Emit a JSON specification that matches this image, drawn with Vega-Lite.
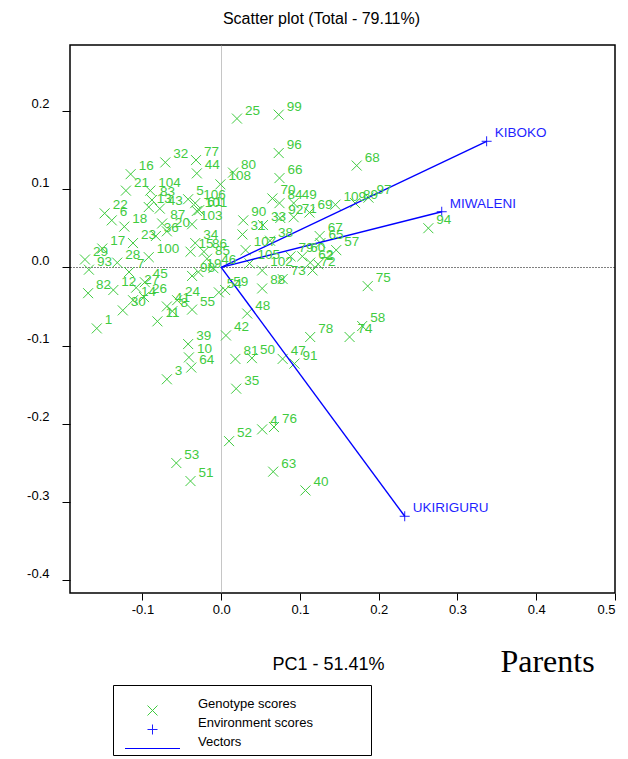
{
  "$schema": "https://vega.github.io/schema/vega-lite/v6.json",
  "autosize": {"type": "none"},
  "width": 545,
  "height": 548,
  "padding": {"left": 70, "top": 45, "right": 13, "bottom": 166},
  "background": "white",
  "title": {
    "text": "Scatter plot (Total - 79.11%)",
    "font": "Liberation Sans",
    "fontSize": 16,
    "fontWeight": "normal",
    "color": "black",
    "anchor": "middle",
    "frame": "group",
    "dx": -21,
    "offset": 2,
    "baseline": "bottom"
  },
  "config": {
    "view": {"stroke": "black", "strokeWidth": 1.5},
    "axis": {
      "domain": false,
      "tickColor": "black",
      "labelColor": "black",
      "labelFont": "Liberation Sans",
      "labelFontSize": 13,
      "titleColor": "black",
      "titleFontWeight": "normal",
      "gridWidth": 1
    },
    "legend": {
      "labelFont": "Liberation Sans",
      "labelFontSize": 13,
      "labelColor": "black",
      "labelBaseline": "bottom",
      "strokeColor": "black",
      "fillColor": "white",
      "padding": 4,
      "rowPadding": -2,
      "symbolSize": 100,
      "symbolStrokeWidth": 1,
      "symbolOffset": 29,
      "labelOffset": 39,
      "titleFont": "DejaVu Sans",
      "titleFontSize": 10,
      "titleFontWeight": "normal",
      "titlePadding": 5,
      "titleLimit": 400
    }
  },
  "datasets": {
    "scores": [
      {"name": "1", "PC1": -0.158, "PC2": -0.078, "group": "Genotype scores"},
      {"name": "2", "PC1": 0.123, "PC2": 0.004, "group": "Genotype scores"},
      {"name": "3", "PC1": -0.069, "PC2": -0.143, "group": "Genotype scores"},
      {"name": "4", "PC1": 0.052, "PC2": -0.207, "group": "Genotype scores"},
      {"name": "5", "PC1": -0.042, "PC2": 0.087, "group": "Genotype scores"},
      {"name": "6", "PC1": -0.139, "PC2": 0.060, "group": "Genotype scores"},
      {"name": "7", "PC1": -0.117, "PC2": -0.006, "group": "Genotype scores"},
      {"name": "8", "PC1": -0.062, "PC2": -0.056, "group": "Genotype scores"},
      {"name": "10", "PC1": -0.041, "PC2": -0.115, "group": "Genotype scores"},
      {"name": "11", "PC1": -0.081, "PC2": -0.069, "group": "Genotype scores"},
      {"name": "12", "PC1": -0.137, "PC2": -0.029, "group": "Genotype scores"},
      {"name": "13", "PC1": -0.092, "PC2": 0.077, "group": "Genotype scores"},
      {"name": "14", "PC1": -0.112, "PC2": -0.042, "group": "Genotype scores"},
      {"name": "15", "PC1": -0.039, "PC2": 0.020, "group": "Genotype scores"},
      {"name": "16", "PC1": -0.115, "PC2": 0.119, "group": "Genotype scores"},
      {"name": "17", "PC1": -0.151, "PC2": 0.024, "group": "Genotype scores"},
      {"name": "18", "PC1": -0.123, "PC2": 0.052, "group": "Genotype scores"},
      {"name": "19", "PC1": -0.029, "PC2": -0.006, "group": "Genotype scores"},
      {"name": "20", "PC1": -0.069, "PC2": 0.046, "group": "Genotype scores"},
      {"name": "21", "PC1": -0.121, "PC2": 0.098, "group": "Genotype scores"},
      {"name": "22", "PC1": -0.148, "PC2": 0.069, "group": "Genotype scores"},
      {"name": "23", "PC1": -0.112, "PC2": 0.031, "group": "Genotype scores"},
      {"name": "24", "PC1": -0.056, "PC2": -0.042, "group": "Genotype scores"},
      {"name": "25", "PC1": 0.020, "PC2": 0.190, "group": "Genotype scores"},
      {"name": "26", "PC1": -0.098, "PC2": -0.038, "group": "Genotype scores"},
      {"name": "27", "PC1": -0.108, "PC2": -0.026, "group": "Genotype scores"},
      {"name": "28", "PC1": -0.132, "PC2": 0.006, "group": "Genotype scores"},
      {"name": "29", "PC1": -0.173, "PC2": 0.010, "group": "Genotype scores"},
      {"name": "30", "PC1": -0.125, "PC2": -0.055, "group": "Genotype scores"},
      {"name": "31", "PC1": 0.027, "PC2": 0.042, "group": "Genotype scores"},
      {"name": "32", "PC1": -0.071, "PC2": 0.134, "group": "Genotype scores"},
      {"name": "33", "PC1": 0.053, "PC2": 0.054, "group": "Genotype scores"},
      {"name": "34", "PC1": -0.033, "PC2": 0.031, "group": "Genotype scores"},
      {"name": "35", "PC1": 0.019, "PC2": -0.155, "group": "Genotype scores"},
      {"name": "36", "PC1": -0.083, "PC2": 0.040, "group": "Genotype scores"},
      {"name": "38", "PC1": 0.062, "PC2": 0.034, "group": "Genotype scores"},
      {"name": "39", "PC1": -0.042, "PC2": -0.098, "group": "Genotype scores"},
      {"name": "40", "PC1": 0.107, "PC2": -0.285, "group": "Genotype scores"},
      {"name": "41", "PC1": -0.069, "PC2": -0.050, "group": "Genotype scores"},
      {"name": "42", "PC1": 0.006, "PC2": -0.087, "group": "Genotype scores"},
      {"name": "43", "PC1": -0.078, "PC2": 0.075, "group": "Genotype scores"},
      {"name": "44", "PC1": -0.031, "PC2": 0.120, "group": "Genotype scores"},
      {"name": "45", "PC1": -0.097, "PC2": -0.019, "group": "Genotype scores"},
      {"name": "46", "PC1": -0.010, "PC2": -0.001, "group": "Genotype scores"},
      {"name": "47", "PC1": 0.078, "PC2": -0.117, "group": "Genotype scores"},
      {"name": "48", "PC1": 0.033, "PC2": -0.059, "group": "Genotype scores"},
      {"name": "49", "PC1": 0.092, "PC2": 0.082, "group": "Genotype scores"},
      {"name": "50", "PC1": 0.039, "PC2": -0.116, "group": "Genotype scores"},
      {"name": "51", "PC1": -0.039, "PC2": -0.273, "group": "Genotype scores"},
      {"name": "52", "PC1": 0.010, "PC2": -0.222, "group": "Genotype scores"},
      {"name": "53", "PC1": -0.057, "PC2": -0.250, "group": "Genotype scores"},
      {"name": "54", "PC1": -0.003, "PC2": -0.032, "group": "Genotype scores"},
      {"name": "55", "PC1": -0.037, "PC2": -0.054, "group": "Genotype scores"},
      {"name": "57", "PC1": 0.146, "PC2": 0.022, "group": "Genotype scores"},
      {"name": "58", "PC1": 0.179, "PC2": -0.075, "group": "Genotype scores"},
      {"name": "59", "PC1": 0.005, "PC2": -0.029, "group": "Genotype scores"},
      {"name": "60", "PC1": 0.103, "PC2": 0.014, "group": "Genotype scores"},
      {"name": "61", "PC1": -0.028, "PC2": 0.073, "group": "Genotype scores"},
      {"name": "62", "PC1": 0.113, "PC2": 0.006, "group": "Genotype scores"},
      {"name": "63", "PC1": 0.066, "PC2": -0.261, "group": "Genotype scores"},
      {"name": "64", "PC1": -0.038, "PC2": -0.128, "group": "Genotype scores"},
      {"name": "65", "PC1": 0.126, "PC2": 0.031, "group": "Genotype scores"},
      {"name": "66", "PC1": 0.074, "PC2": 0.114, "group": "Genotype scores"},
      {"name": "67", "PC1": 0.125, "PC2": 0.040, "group": "Genotype scores"},
      {"name": "68", "PC1": 0.172, "PC2": 0.130, "group": "Genotype scores"},
      {"name": "69", "PC1": 0.112, "PC2": 0.070, "group": "Genotype scores"},
      {"name": "70", "PC1": 0.065, "PC2": 0.088, "group": "Genotype scores"},
      {"name": "71", "PC1": 0.092, "PC2": 0.064, "group": "Genotype scores"},
      {"name": "72", "PC1": 0.116, "PC2": -0.004, "group": "Genotype scores"},
      {"name": "73", "PC1": 0.078, "PC2": -0.015, "group": "Genotype scores"},
      {"name": "74", "PC1": 0.163, "PC2": -0.089, "group": "Genotype scores"},
      {"name": "75", "PC1": 0.186, "PC2": -0.024, "group": "Genotype scores"},
      {"name": "76", "PC1": 0.067, "PC2": -0.204, "group": "Genotype scores"},
      {"name": "77", "PC1": -0.032, "PC2": 0.137, "group": "Genotype scores"},
      {"name": "78", "PC1": 0.113, "PC2": -0.089, "group": "Genotype scores"},
      {"name": "79", "PC1": 0.088, "PC2": 0.014, "group": "Genotype scores"},
      {"name": "80", "PC1": 0.015, "PC2": 0.121, "group": "Genotype scores"},
      {"name": "81", "PC1": 0.018, "PC2": -0.117, "group": "Genotype scores"},
      {"name": "82", "PC1": -0.169, "PC2": -0.033, "group": "Genotype scores"},
      {"name": "83", "PC1": -0.088, "PC2": 0.086, "group": "Genotype scores"},
      {"name": "84", "PC1": 0.074, "PC2": 0.082, "group": "Genotype scores"},
      {"name": "85", "PC1": -0.018, "PC2": 0.011, "group": "Genotype scores"},
      {"name": "86", "PC1": -0.022, "PC2": 0.020, "group": "Genotype scores"},
      {"name": "87", "PC1": -0.075, "PC2": 0.056, "group": "Genotype scores"},
      {"name": "88", "PC1": 0.052, "PC2": -0.027, "group": "Genotype scores"},
      {"name": "89", "PC1": 0.170, "PC2": 0.082, "group": "Genotype scores"},
      {"name": "90", "PC1": 0.028, "PC2": 0.060, "group": "Genotype scores"},
      {"name": "91", "PC1": 0.093, "PC2": -0.123, "group": "Genotype scores"},
      {"name": "92", "PC1": 0.075, "PC2": 0.063, "group": "Genotype scores"},
      {"name": "93", "PC1": -0.168, "PC2": -0.003, "group": "Genotype scores"},
      {"name": "94", "PC1": 0.263, "PC2": 0.050, "group": "Genotype scores"},
      {"name": "96", "PC1": 0.073, "PC2": 0.146, "group": "Genotype scores"},
      {"name": "97", "PC1": 0.187, "PC2": 0.089, "group": "Genotype scores"},
      {"name": "98", "PC1": -0.037, "PC2": -0.011, "group": "Genotype scores"},
      {"name": "99", "PC1": 0.073, "PC2": 0.195, "group": "Genotype scores"},
      {"name": "100", "PC1": -0.092, "PC2": 0.013, "group": "Genotype scores"},
      {"name": "101", "PC1": -0.031, "PC2": 0.072, "group": "Genotype scores"},
      {"name": "102", "PC1": 0.052, "PC2": -0.004, "group": "Genotype scores"},
      {"name": "103", "PC1": -0.037, "PC2": 0.055, "group": "Genotype scores"},
      {"name": "104", "PC1": -0.090, "PC2": 0.098, "group": "Genotype scores"},
      {"name": "105", "PC1": 0.036, "PC2": 0.005, "group": "Genotype scores"},
      {"name": "106", "PC1": -0.033, "PC2": 0.082, "group": "Genotype scores"},
      {"name": "107", "PC1": 0.031, "PC2": 0.022, "group": "Genotype scores"},
      {"name": "108", "PC1": -0.001, "PC2": 0.106, "group": "Genotype scores"},
      {"name": "109", "PC1": 0.145, "PC2": 0.080, "group": "Genotype scores"},
      {"name": "KIBOKO", "PC1": 0.337, "PC2": 0.161, "group": "Environment scores"},
      {"name": "MIWALENI", "PC1": 0.280, "PC2": 0.071, "group": "Environment scores"},
      {"name": "UKIRIGURU", "PC1": 0.233, "PC2": -0.318, "group": "Environment scores"}
    ]
  },
  "data": {"name": "scores"},
  "encoding": {
    "x": {
      "field": "PC1",
      "type": "quantitative",
      "scale": {"domain": [-0.192, 0.5], "nice": false, "zero": false},
      "axis": {
        "values": [-0.1, 0, 0.1, 0.2, 0.3, 0.4, 0.5],
        "labelExpr": "datum.value < 0 ? '-' + format(-datum.value, '.1f') : format(datum.value, '.1f')",
        "tickSize": 7,
        "labelPadding": 3,
        "grid": true,
        "gridColor": {"condition": {"test": "datum.value === 0", "value": "#8c8c8c"}, "value": "transparent"},
        "gridDash": [1, 1],
        "title": "PC1 - 51.41%",
        "titleFont": "Liberation Sans",
        "titleFontSize": 18,
        "titleX": 258,
        "titleY": 71,
        "titleAlign": "center",
        "titleBaseline": "middle"
      }
    },
    "y": {
      "field": "PC2",
      "type": "quantitative",
      "scale": {"domain": [-0.416, 0.284], "nice": false, "zero": false},
      "axis": {
        "values": [-0.4, -0.3, -0.2, -0.1, 0, 0.1, 0.2],
        "labelExpr": "datum.value < 0 ? '-' + format(-datum.value, '.1f') : format(datum.value, '.1f')",
        "tickSize": 8,
        "labelPadding": 13,
        "labelOffset": -7,
        "grid": true,
        "gridColor": {"condition": {"test": "datum.value === 0", "value": "black"}, "value": "transparent"},
        "gridDash": [1, 2],
        "title": "Parents",
        "titleFont": "Liberation Serif",
        "titleFontSize": 32,
        "titleAngle": 0,
        "titleX": 477,
        "titleY": 616,
        "titleAlign": "center",
        "titleBaseline": "middle"
      }
    }
  },
  "layer": [
    {
      "mark": {"type": "point", "filled": false, "size": 100, "strokeWidth": 1, "opacity": 1},
      "encoding": {
        "shape": {
          "field": "group",
          "type": "nominal",
          "scale": {
            "domain": ["Genotype scores", "Environment scores", "Vectors"],
            "range": ["M-1,-1L1,1M-1,1L1,-1", "M-1,0L1,0M0,-1L0,1", "M-5.5,0L5.5,0"]
          },
          "legend": {
            "title": "\u2800\u2800\u2800\u2800\u2800\u2800\u2800\u2800\u2800\u2800\u2800\u2800\u2800\u2800\u2800\u2800\u2800\u2800\u2800\u2800\u2800\u2800\u2800\u2800\u2800\u2800\u2800\u2800\u2800\u2800\u2800\u2800\u2800\u2800",
            "orient": "none",
            "legendX": 43,
            "legendY": 640
          }
        },
        "color": {
          "field": "group",
          "type": "nominal",
          "scale": {
            "domain": ["Genotype scores", "Environment scores", "Vectors"],
            "range": ["#3fcb3f", "#1f1fff", "#0000ff"]
          },
          "legend": {
            "title": "\u2800\u2800\u2800\u2800\u2800\u2800\u2800\u2800\u2800\u2800\u2800\u2800\u2800\u2800\u2800\u2800\u2800\u2800\u2800\u2800\u2800\u2800\u2800\u2800\u2800\u2800\u2800\u2800\u2800\u2800\u2800\u2800\u2800\u2800",
            "orient": "none",
            "legendX": 43,
            "legendY": 640
          }
        }
      }
    },
    {
      "transform": [{"filter": "datum.group === 'Environment scores'"}],
      "mark": {"type": "rule", "stroke": "#0000ff", "strokeWidth": 1.4},
      "encoding": {
        "x2": {"datum": 0},
        "y2": {"datum": 0}
      }
    },
    {
      "mark": {"type": "text", "align": "left", "baseline": "middle", "dx": 8, "dy": -8, "font": "Liberation Sans", "fontSize": 13.5},
      "encoding": {
        "text": {"field": "name"},
        "color": {"field": "group", "type": "nominal", "legend": null}
      }
    }
  ]
}
